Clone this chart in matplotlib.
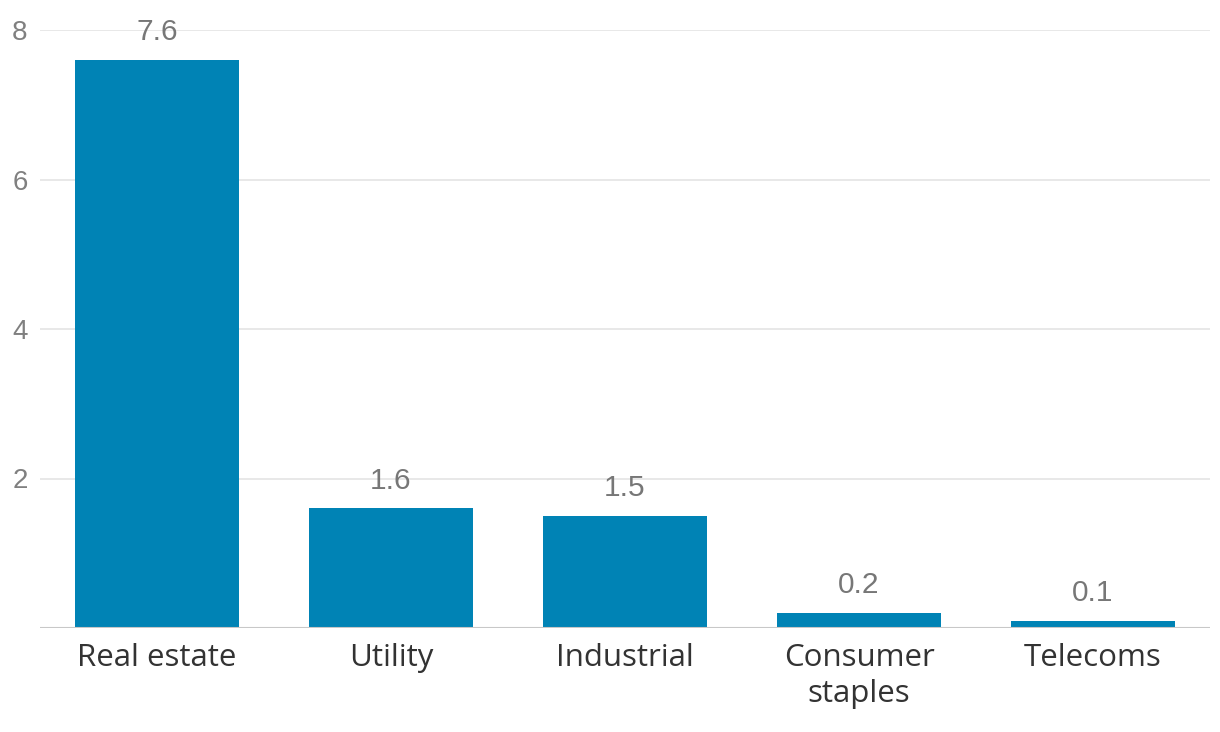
import matplotlib.pyplot as plt
import numpy as np

# data
categories = ["Real estate", "Utility", "Industrial", "Consumer\nstaples", "Telecoms"]
values = [7.6, 1.6, 1.5, 0.2, 0.1]
yticks = [2, 4, 6, 8]

fig = plt.figure(figsize=(12.2, 7.32), dpi=100)
ax = fig.add_axes([40 / 1220, 1 - 628 / 732, 1170 / 1220, 598 / 732])

x = np.arange(len(categories))
ax.bar(x, values, width=0.7, color="#0083b5", zorder=3)

for xi, v in zip(x, values):
    ax.annotate(f"{v:g}", (xi, v), xytext=(0, 10), textcoords="offset points",
                ha="center", va="bottom", fontsize=21.5, color="#777777",
                family="Liberation Sans", zorder=4)

ax.set_xlim(-0.5, len(categories) - 0.5)
ax.set_ylim(0, 8)
ax.set_yticks(yticks)
ax.set_yticklabels([str(t) for t in yticks], fontsize=20, color="#808080",
                   family="Liberation Sans")
ax.set_xticks(x)
ax.set_xticklabels(categories, fontsize=22.5, color="#333333", family="Open Sans",
                   linespacing=1.25)

ax.grid(axis="y", color="#e6e6e6", linewidth=1.3, zorder=0)
ax.axhline(0, color="#c8c8c8", linewidth=1.5, zorder=4)
for s in ax.spines.values():
    s.set_visible(False)
ax.tick_params(axis="both", length=0)
ax.tick_params(axis="y", pad=9)
ax.tick_params(axis="x", pad=11)

fig.savefig("out.png", dpi=100)
